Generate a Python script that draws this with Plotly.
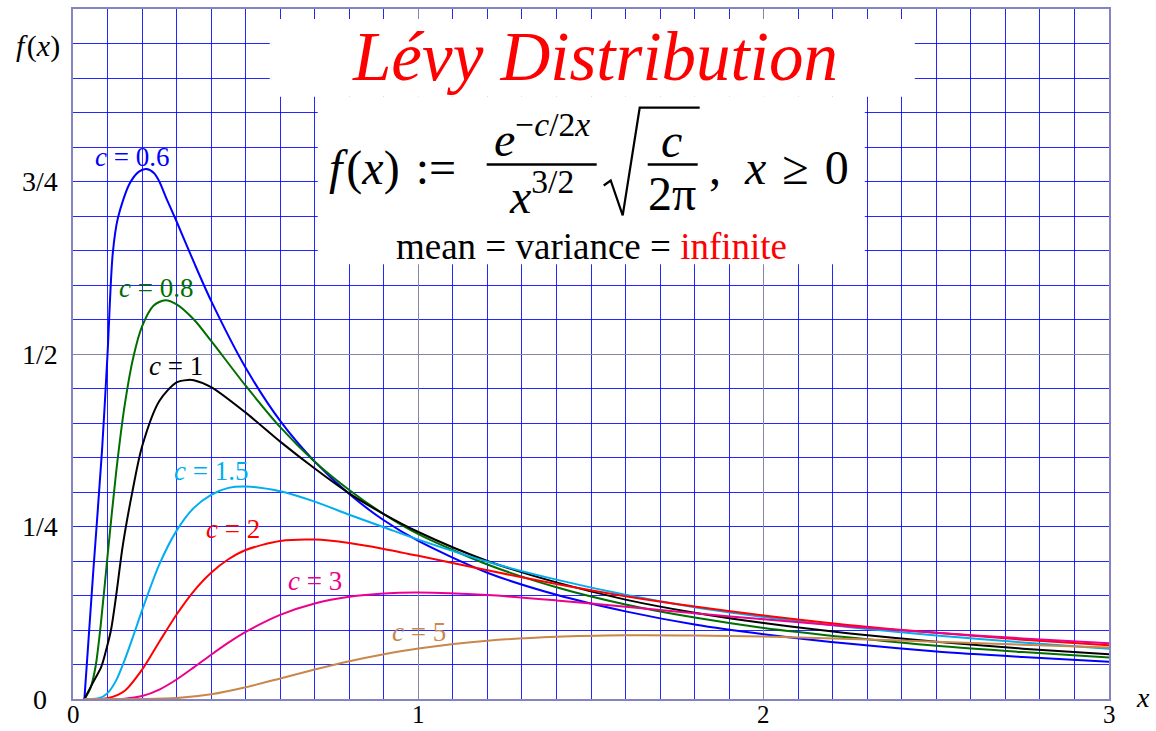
import plotly.graph_objects as go

# Lévy densities for several scale parameters c, sampled along x
x_c06 = [0.033, 0.058, 0.084, 0.1, 0.115, 0.13, 0.163, 0.19, 0.212, 0.235, 0.25, 0.27, 0.3, 0.35, 0.4,
         0.5, 0.6, 0.7, 0.8, 0.9, 1.0, 1.2, 1.4, 1.6, 1.8, 2.0, 2.25, 2.5, 2.75, 3.0]
y_c06 = [0.0, 0.18, 0.36, 0.50, 0.645, 0.697, 0.746, 0.764, 0.768, 0.762, 0.750, 0.726, 0.692, 0.633, 0.577,
         0.480, 0.403, 0.344, 0.297, 0.259, 0.229, 0.183, 0.151, 0.127, 0.108, 0.094, 0.080, 0.069, 0.061, 0.054]

x_c08 = [0.033, 0.05, 0.065, 0.08, 0.1, 0.125, 0.15, 0.175, 0.2, 0.233, 0.267, 0.3, 0.35, 0.4, 0.5, 0.6,
         0.7, 0.8, 0.9, 1.0, 1.2, 1.4, 1.6, 1.8, 2.0, 2.25, 2.5, 2.75, 3.0]
y_c08 = [0.0, 0.015, 0.046, 0.106, 0.207, 0.329, 0.427, 0.496, 0.540, 0.570, 0.578, 0.572, 0.550, 0.519,
         0.454, 0.394, 0.344, 0.303, 0.268, 0.239, 0.195, 0.162, 0.137, 0.118, 0.103, 0.089, 0.077, 0.068, 0.060]

x_c1 = [0.033, 0.057, 0.082, 0.096, 0.11, 0.125, 0.144, 0.171, 0.2, 0.25, 0.3, 0.333, 0.35, 0.4, 0.5, 0.6,
        0.7, 0.8, 0.9, 1.0, 1.2, 1.4, 1.6, 1.8, 2.0, 2.25, 2.5, 2.75, 3.0]
y_c1 = [0.0, 0.023, 0.047, 0.071, 0.100, 0.150, 0.222, 0.298, 0.366, 0.432, 0.459, 0.4625, 0.462, 0.452,
        0.415, 0.373, 0.334, 0.298, 0.268, 0.242, 0.200, 0.169, 0.144, 0.125, 0.110, 0.095, 0.083, 0.073, 0.065]

x_c15 = [0.033, 0.075, 0.1, 0.125, 0.15, 0.175, 0.2, 0.25, 0.3, 0.35, 0.4, 0.45, 0.5, 0.6, 0.7, 0.8, 0.9,
         1.0, 1.2, 1.4, 1.6, 1.8, 2.0, 2.25, 2.5, 2.75, 3.0]
y_c15 = [0.0, 0.001, 0.0085, 0.027, 0.057, 0.092, 0.1285, 0.195, 0.244, 0.277, 0.296, 0.306, 0.308, 0.301,
         0.286, 0.267, 0.249, 0.231, 0.199, 0.173, 0.151, 0.133, 0.119, 0.104, 0.092, 0.082, 0.073]

x_c2 = [0.033, 0.1, 0.15, 0.2, 0.25, 0.3, 0.35, 0.4, 0.45, 0.5, 0.6, 0.7, 0.8, 0.9, 1.0, 1.2, 1.4, 1.6,
        1.8, 2.0, 2.25, 2.5, 2.75, 3.0]
y_c2 = [0.0, 0.001, 0.012, 0.0425, 0.083, 0.1225, 0.1565, 0.183, 0.2025, 0.216, 0.229, 0.231, 0.226,
        0.2175, 0.2075, 0.1865, 0.1667, 0.149, 0.134, 0.121, 0.107, 0.096, 0.086, 0.078]

x_c3 = [0.033, 0.15, 0.2, 0.25, 0.3, 0.35, 0.4, 0.45, 0.5, 0.6, 0.7, 0.8, 0.9, 1.0, 1.2, 1.4, 1.6, 1.8,
        2.0, 2.25, 2.5, 2.75, 3.0]
y_c3 = [0.0, 0.0005, 0.0043, 0.0137, 0.0283, 0.0459, 0.0642, 0.0817, 0.0973, 0.122, 0.1384, 0.1481,
        0.1529, 0.1542, 0.1506, 0.1429, 0.1337, 0.1244, 0.1154, 0.1051, 0.0959, 0.0878, 0.0807]

x_c5 = [0.033, 0.2, 0.3, 0.4, 0.5, 0.6, 0.7, 0.8, 0.9, 1.0, 1.2, 1.4, 1.6, 1.8, 2.0, 2.25, 2.5, 2.75, 3.0]
y_c5 = [0.0, 0.0, 0.0013, 0.0068, 0.017, 0.0298, 0.0428, 0.0548, 0.065, 0.0732, 0.0845, 0.0903, 0.0924,
        0.0921, 0.0904, 0.087, 0.083, 0.0788, 0.0746]

c_labels = ["0.6", "0.8", "1", "1.5", "2", "3", "5"]
c_colors = ["#0000ff", "#006e00", "#000000", "#00aeef", "#ff0000", "#ec008c", "#c8874b"]
# label anchor points (data units) next to each curve
label_x = [0.170, 0.240, 0.298, 0.400, 0.4625, 0.702, 1.001]
label_y = [0.786, 0.596, 0.483, 0.331, 0.2457, 0.1705, 0.0973]

x_ticks = [0, 1, 2, 3]
x_tick_text = ["0", "1", "2", "3"]
y_ticks = [0, 0.25, 0.5, 0.75]
y_tick_text = ["0", "1/4", "1/2", "3/4"]

SERIF = "Liberation Serif"
GRID_BLUE = "rgba(0,0,255,0.85)"
GRID_MAJOR = "#8585a8"
FRAME = "#8484c4"

series = [(x_c06, y_c06), (x_c08, y_c08), (x_c1, y_c1), (x_c15, y_c15),
          (x_c2, y_c2), (x_c3, y_c3), (x_c5, y_c5)]

fig = go.Figure()
for (xs, ys), lab, col in zip(series, c_labels, c_colors):
    fig.add_trace(go.Scatter(x=xs, y=ys, mode="lines", name="c = " + lab,
                             line=dict(color=col, width=2, shape="spline", smoothing=0.8),
                             hoverinfo="skip"))

# plot area in pixels: left 73.3, right 1109.3, top 7, bottom 699
def px_x(p):
    return (p - 73.3) / 1036.0

def px_y(p):
    return (699.0 - p) / 692.0

def note(x, y, text, size, color="black", xref="paper", yref="paper", xanchor="center"):
    return dict(x=x, y=y, xref=xref, yref=yref, showarrow=False, text=text,
                xanchor=xanchor, yanchor="middle", borderpad=0,
                font=dict(family=SERIF, size=size, color=color))

EQ = "\u2005=\u2005"

ann = []
for lab, col, lx, ly in zip(c_labels, c_colors, label_x, label_y):
    ann.append(note(lx, ly, "<i>c</i>" + EQ + lab, 27, col, xref="x", yref="y"))

for v, t in zip(x_ticks, x_tick_text):
    ann.append(note(v, px_y(715), t, 25, xref="x"))
for v, t in zip(y_ticks, y_tick_text):
    ann.append(note(px_x(40), v, t, 28, yref="y"))

ann.append(note(px_x(38), px_y(44), "<i>f</i>\u200a(<i>x</i>)", 30))
ann.append(note(px_x(1143), px_y(697), "<i>x</i>", 28))

# title
ann.append(note(px_x(595), px_y(55), "<i>Lévy Distribution</i>", 69, "red"))

# formula f(x) := e^{-c/2x} / x^{3/2} * sqrt(c / 2pi) , x >= 0
FS = 48
ann.append(note(px_x(328), px_y(166), "<i>f</i>\u200a(<i>x</i>)\u2004:=", FS, xanchor="left"))
ann.append(note(px_x(542), px_y(134), "<i>e</i><sup>\u2212<i>c</i>/2<i>x</i></sup>", FS))
ann.append(note(px_x(542), px_y(192), "<i>x</i><sup>3/2</sup>", FS))
ann.append(note(px_x(672), px_y(139), "<i>c</i>", FS))
ann.append(note(px_x(672), px_y(192), "2\u03c0", FS))
ann.append(note(px_x(708), px_y(166), ",\u2002<i>x</i>\u2004\u2265\u20040", FS, xanchor="left"))
ann.append(note(px_x(592), px_y(245),
                "mean" + EQ + "variance" + EQ + "<span style='color:red'>infinite</span>", 37))

shapes = [
    # white backgrounds behind title and formula
    dict(type="rect", xref="x", yref="y", x0=0.5697, x1=2.4376, y0=0.8728, y1=0.9855,
         fillcolor="white", line=dict(width=0), layer="between"),
    dict(type="rect", xref="x", yref="y", x0=0.7087, x1=2.2928, y0=0.6301, y1=0.8728,
         fillcolor="white", line=dict(width=0), layer="between"),
    # fraction bars
    dict(type="line", xref="paper", yref="paper", x0=px_x(487), x1=px_x(597),
         y0=px_y(163), y1=px_y(163), line=dict(color="black", width=2.5)),
    dict(type="line", xref="paper", yref="paper", x0=px_x(648), x1=px_x(698),
         y0=px_y(163), y1=px_y(163), line=dict(color="black", width=2.5)),
    # radical sign
    dict(type="path", xref="paper", yref="paper",
         path="M {:.5f},{:.5f} L {:.5f},{:.5f} L {:.5f},{:.5f} L {:.5f},{:.5f} L {:.5f},{:.5f}".format(
             px_x(604), px_y(184), px_x(611), px_y(179), px_x(623), px_y(214),
             px_x(640), px_y(106), px_x(700), px_y(106)),
         line=dict(color="black", width=2.2)),
]

fig.update_layout(
    width=1156, height=731,
    margin=dict(l=73, r=47, t=7, b=32),
    paper_bgcolor="white", plot_bgcolor="white",
    showlegend=False,
    annotations=ann, shapes=shapes,
    xaxis=dict(range=[0, 3], tickmode="linear", tick0=0, dtick=1,
               showgrid=True, gridcolor=GRID_MAJOR, gridwidth=1,
               showticklabels=False, ticks="", zeroline=False,
               showline=True, linecolor=FRAME, linewidth=2, mirror=True,
               minor=dict(tickmode="linear", tick0=0, dtick=0.1, showgrid=True,
                          gridcolor=GRID_BLUE, gridwidth=1, ticks="")),
    yaxis=dict(range=[0, 1], tickmode="linear", tick0=0, dtick=0.5,
               showgrid=True, gridcolor=GRID_MAJOR, gridwidth=1,
               showticklabels=False, ticks="", zeroline=False,
               showline=True, linecolor=FRAME, linewidth=2, mirror=True,
               minor=dict(tickmode="linear", tick0=0, dtick=0.05, showgrid=True,
                          gridcolor=GRID_BLUE, gridwidth=1, ticks="")),
)

fig.write_html("out.html")
